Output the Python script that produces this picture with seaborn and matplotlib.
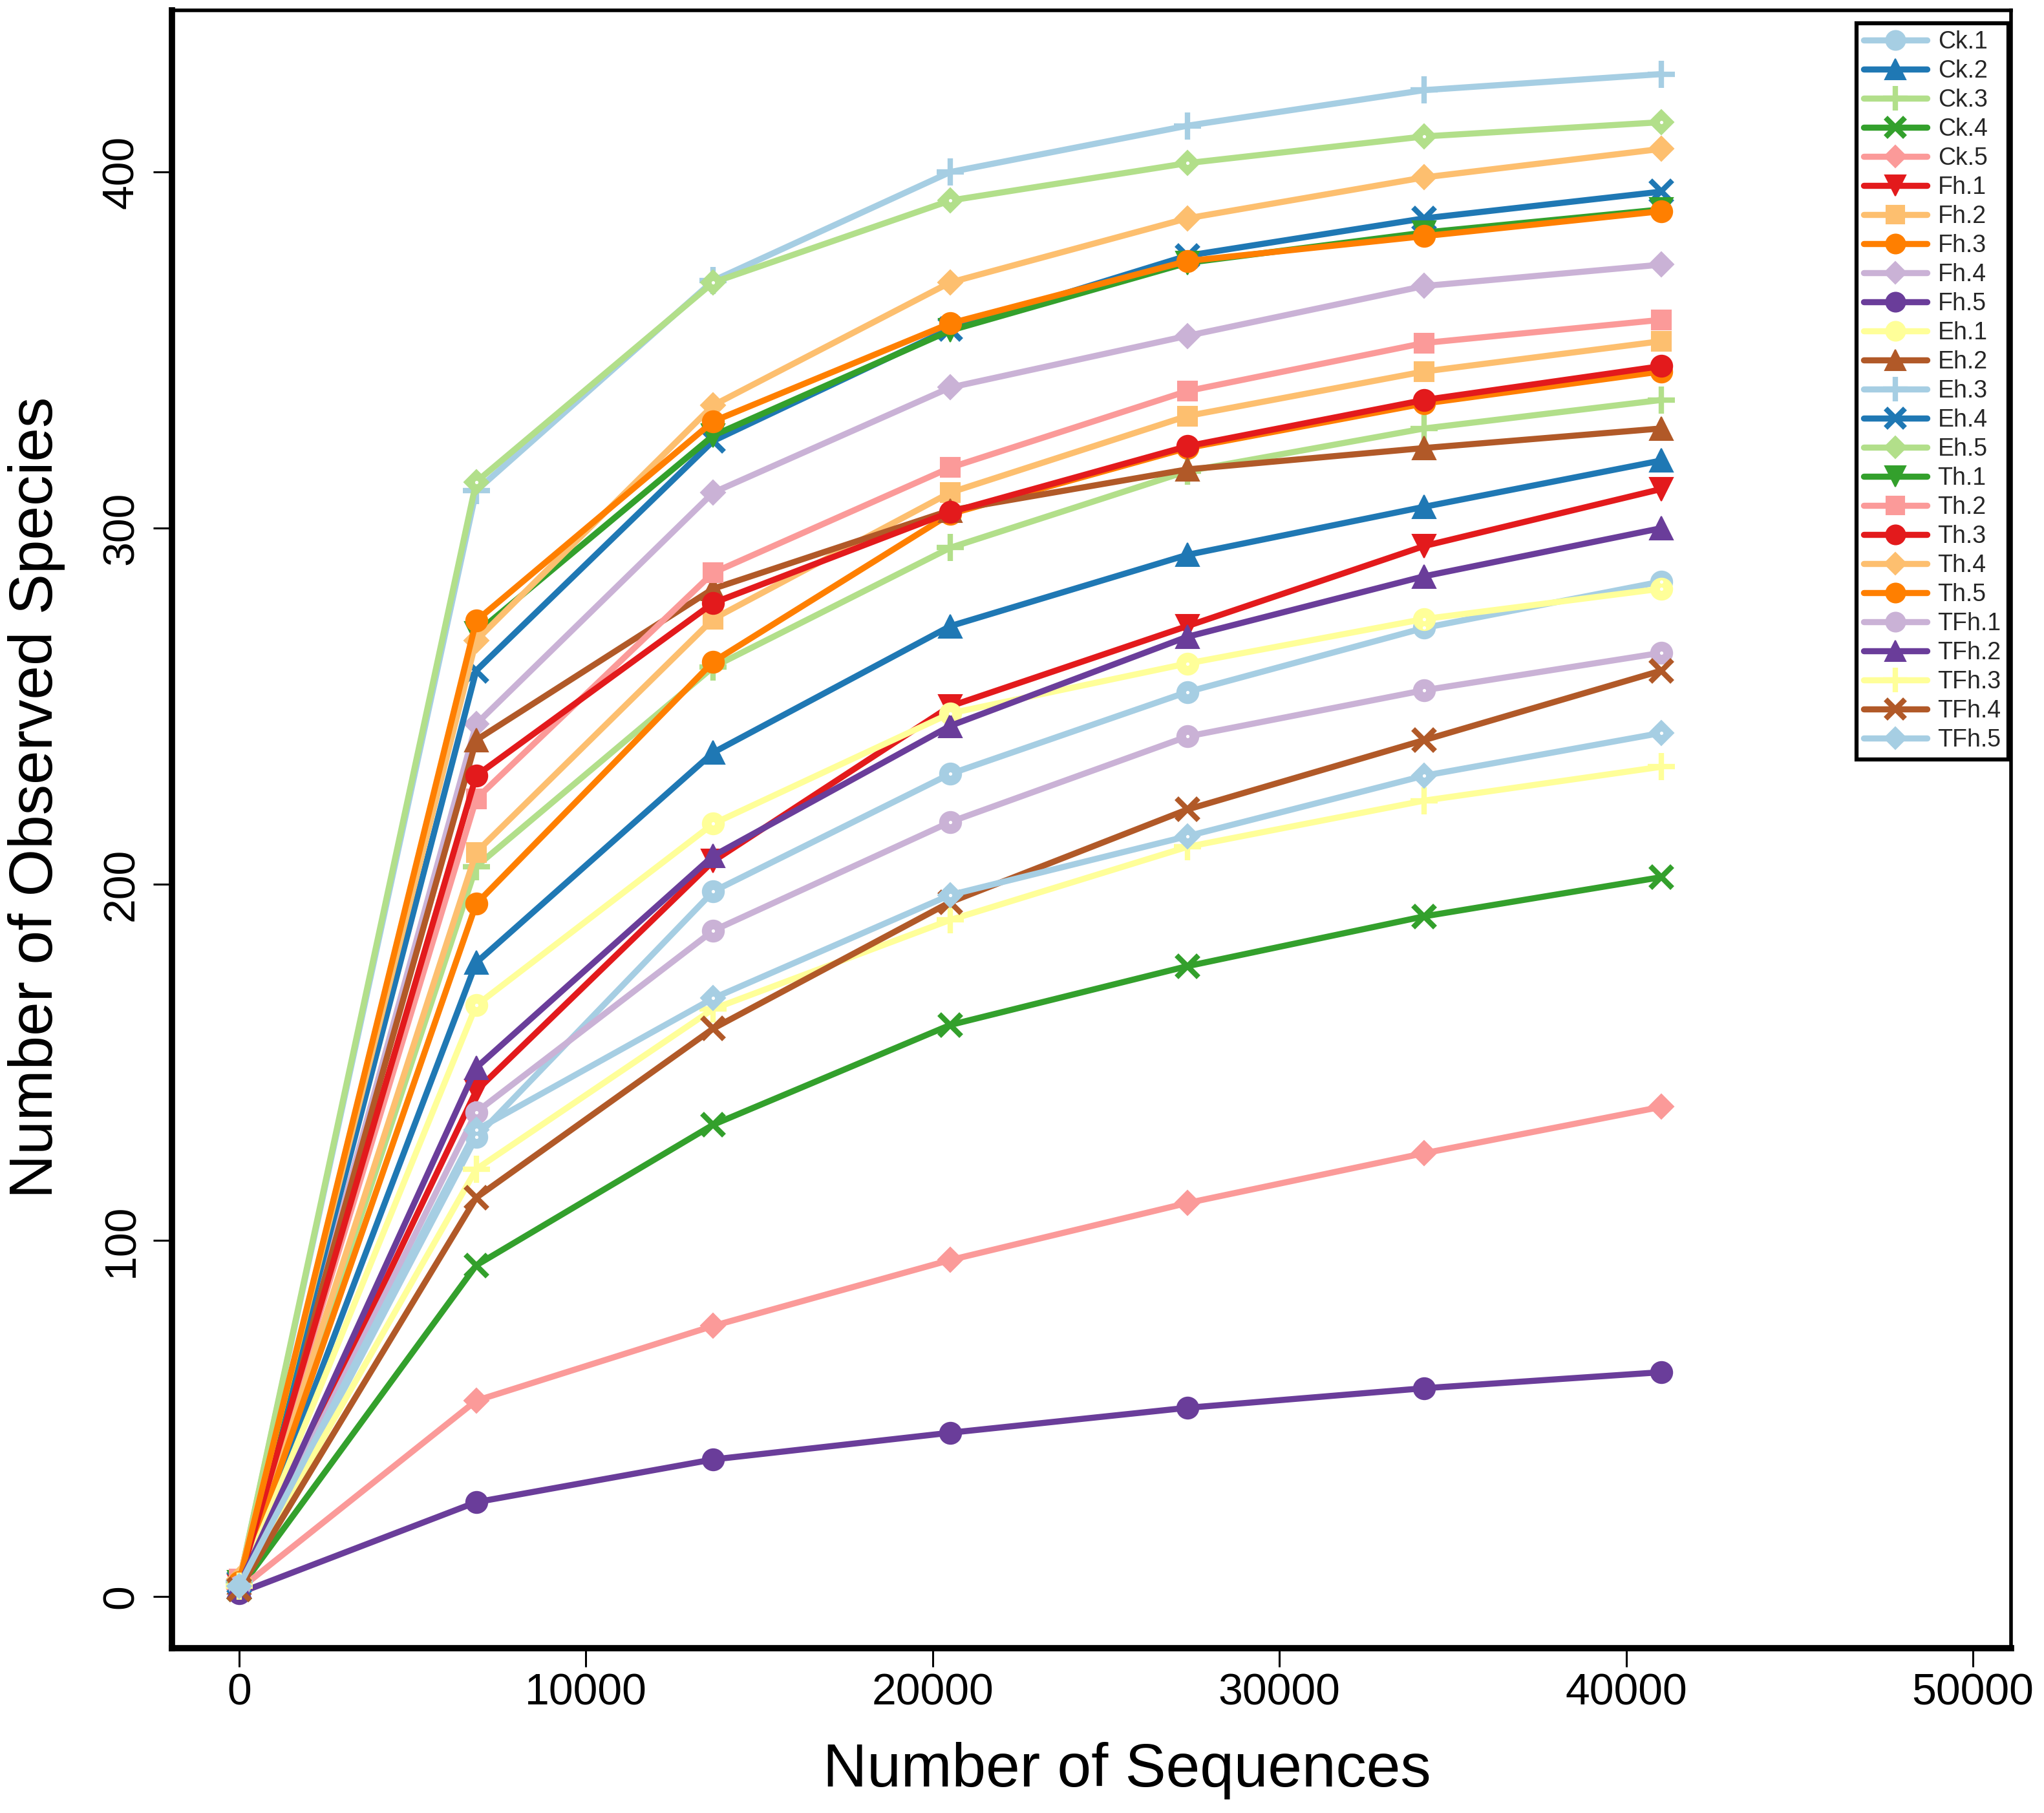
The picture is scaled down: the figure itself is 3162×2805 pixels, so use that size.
import matplotlib
matplotlib.use("Agg")
import matplotlib.pyplot as plt
import numpy as np
import pandas as pd
import seaborn as sns

# ---------------- data ----------------
sequences = [0, 6836, 13672, 20508, 27344, 34180, 41016]
samples = ["Ck.1", "Ck.2", "Ck.3", "Ck.4", "Ck.5",
           "Fh.1", "Fh.2", "Fh.3", "Fh.4", "Fh.5",
           "Eh.1", "Eh.2", "Eh.3", "Eh.4", "Eh.5",
           "Th.1", "Th.2", "Th.3", "Th.4", "Th.5",
           "TFh.1", "TFh.2", "TFh.3", "TFh.4", "TFh.5"]

Ck_1 = [2, 129, 198, 231, 254, 272, 285]
Ck_2 = [3, 178, 237, 272.5, 292.5, 306, 319]
Ck_3 = [3, 205, 261, 294.5, 316, 328, 336]
Ck_4 = [2, 93, 132.5, 160.5, 177, 191, 202]
Ck_5 = [2, 55, 76, 94.5, 110.5, 124.5, 137.5]
Fh_1 = [3, 142, 206.5, 250, 272.5, 295, 311]
Fh_2 = [4, 209, 274.5, 310, 331.5, 344, 352.5]
Fh_3 = [3, 194.5, 262.5, 304, 322.5, 335, 344]
Fh_4 = [4, 245, 310, 339.5, 354, 368, 374]
Fh_5 = [1, 26.5, 38.5, 46, 53, 58.5, 63]
Eh_1 = [3, 166, 217, 248, 262, 274.5, 283]
Eh_2 = [4, 240.5, 283, 305, 316.5, 322.5, 328]
Eh_3 = [4, 310.5, 369.5, 400, 413, 423, 427.5]
Eh_4 = [4, 260, 324.5, 356, 376.5, 387, 394.5]
Eh_5 = [4, 313, 369, 392, 402.5, 410, 414]
Th_1 = [4, 270.5, 326, 355.5, 374.5, 383, 389.5]
Th_2 = [5, 224, 287.5, 317, 338.5, 352, 358.5]
Th_3 = [4, 230.5, 279, 304.5, 323, 336, 345.5]
Th_4 = [5, 268.5, 334.5, 369, 387, 398.5, 406.5]
Th_5 = [4, 274, 330, 357.5, 375, 382, 389]
TFh_1 = [3, 136, 187, 217.5, 241.5, 254.5, 265]
TFh_2 = [3, 148.5, 208, 244.5, 269.5, 286.5, 300]
TFh_3 = [3, 120, 165, 190, 210.5, 223.5, 233]
TFh_4 = [2, 112, 159.5, 195, 221, 240.5, 260]
TFh_5 = [3, 131, 168, 197, 213.5, 230.5, 242.5]

series = [Ck_1, Ck_2, Ck_3, Ck_4, Ck_5, Fh_1, Fh_2, Fh_3, Fh_4, Fh_5,
          Eh_1, Eh_2, Eh_3, Eh_4, Eh_5, Th_1, Th_2, Th_3, Th_4, Th_5,
          TFh_1, TFh_2, TFh_3, TFh_4, TFh_5]

# samples whose markers show a small hollow centre in the original
hollow_samples = ["Ck.1", "Eh.1", "Eh.5", "TFh.1", "TFh.5"]

x_ticks = [0, 10000, 20000, 30000, 40000, 50000]
y_ticks = [0, 100, 200, 300, 400]

# ---------------- style ----------------
sns.set_theme(style="ticks")
plt.rcParams["font.family"] = ["Liberation Sans", "DejaVu Sans"]

W, H = 3162, 2805
fig = plt.figure(figsize=(W / 100, H / 100), dpi=100)
ax_l, ax_r, ax_t, ax_b = 266, 3111, 16, 2550
ax = fig.add_axes([ax_l / W, 1 - ax_b / H, (ax_r - ax_l) / W, (ax_b - ax_t) / H])

rows = []
for name, vals in zip(samples, series):
    for s, v in zip(sequences, vals):
        rows.append({"Sequences": s, "Observed": v, "Sample": name})
df = pd.DataFrame(rows)

pal = sns.color_palette("Paired", 12)
colors = [pal[i % 12] for i in range(len(samples))]
marker_cycle = ["o", "^", "+", "x", "D", "v", "s", "o", "D", "o"]
marker_size = {"o": 24, "^": 26, "v": 26, "+": 30, "x": 24, "D": 19, "s": 22}

sns.lineplot(data=df, x="Sequences", y="Observed", hue="Sample",
             hue_order=samples, palette=colors, linewidth=6.8,
             legend=False, sort=False, errorbar=None, ax=ax)

lines = list(ax.get_lines())
for i, ln in enumerate(lines):
    m = marker_cycle[i % 10]
    c = colors[i]
    ln.set_marker(m)
    ln.set_markersize(marker_size[m])
    ln.set_markerfacecolor(c)
    ln.set_markeredgecolor(c)
    ln.set_markeredgewidth(6 if m in ("+", "x") else 1.5)
    ln.set_solid_capstyle("round")
    ln.set_solid_joinstyle("round")

# tiny hollow centres of some markers
hollow = df[df["Sample"].isin(hollow_samples) & (df["Sequences"] > 0)]
sns.scatterplot(data=hollow, x="Sequences", y="Observed", color="white",
                s=14, linewidth=0, legend=False, ax=ax, zorder=5)

# axes limits / ticks
ax.set_xlim(-1939, 51100)
ax.set_ylim(-14.5, 445.4)
ax.set_xticks(x_ticks)
ax.set_yticks(y_ticks)
ax.set_xticklabels([str(t) for t in x_ticks])
ax.set_yticklabels([str(t) for t in y_ticks])
ax.set_xlabel("")
ax.set_ylabel("")
ax.tick_params(axis="both", direction="out", length=21, width=2.2,
               color="black", labelsize=49, labelcolor="black")
ax.tick_params(axis="x", pad=6)
ax.tick_params(axis="y", pad=12)
for lab in ax.get_yticklabels():
    lab.set_rotation(90)
    lab.set_va("center")
    lab.set_ha("right")

for side in ["left", "bottom"]:
    ax.spines[side].set_linewidth(7)
    ax.spines[side].set_color("black")
for side in ["top", "right"]:
    ax.spines[side].set_linewidth(4)
    ax.spines[side].set_color("black")
    ax.spines[side].set_visible(True)
ax.grid(False)

# axis titles
fig.text(1743 / W, 1 - 2739 / H, "Number of Sequences", fontsize=68,
         ha="center", va="center", color="black")
fig.text(57 / W, 1 - 1234 / H, "Number of Observed Species", fontsize=68,
         ha="center", va="center", rotation=90, color="black")

# legend
leg = ax.legend(lines, samples, loc="upper right",
                bbox_to_anchor=((3107 - ax_l) / (ax_r - ax_l), 1 - (36 - ax_t) / (ax_b - ax_t)),
                borderaxespad=0, fontsize=27, labelspacing=0.24,
                handlelength=2.6, handletextpad=0.45, borderpad=0.3,
                markerscale=0.9, fancybox=False, frameon=True)
leg.get_frame().set_edgecolor("black")
leg.get_frame().set_linewidth(4.5)
leg.get_frame().set_facecolor("white")
leg.get_frame().set_alpha(1)

fig.savefig("out.png", dpi=100, facecolor="white")
